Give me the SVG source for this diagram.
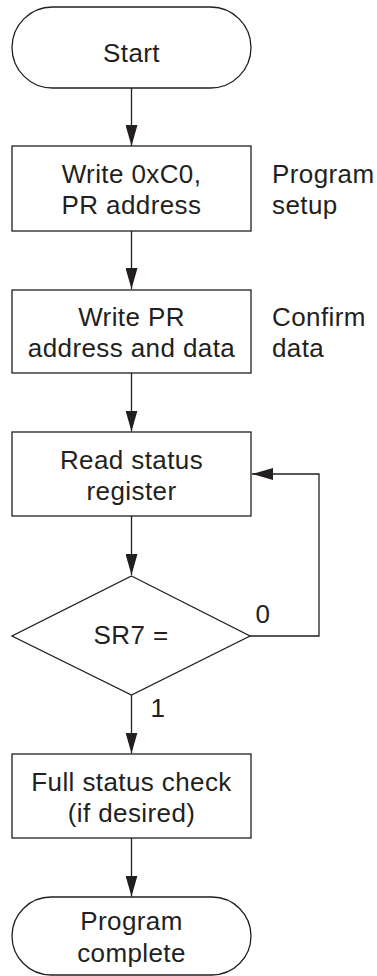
<svg xmlns="http://www.w3.org/2000/svg" width="377" height="976" viewBox="0 0 377 976">
<defs>
<style>
.s{fill:#fff;stroke:#231f20;stroke-width:1.3}
.c{fill:none;stroke:#231f20;stroke-width:1.3}
text{font-family:"Liberation Sans",Arial,sans-serif;font-size:26px;letter-spacing:0.4px;fill:#231f20}
.m{text-anchor:middle}
</style>
<marker id="ah" markerWidth="21" markerHeight="12" refX="21" refY="6" orient="auto" markerUnits="userSpaceOnUse">
<path d="M0,0 L21,6 L0,12 Z" fill="#231f20"/>
</marker>
</defs>
<rect width="377" height="976" fill="#fff"/>
<g id="connectors">
<line class="c" x1="131.5" y1="88" x2="131.5" y2="146" marker-end="url(#ah)"/>
<line class="c" x1="131.5" y1="231" x2="131.5" y2="289" marker-end="url(#ah)"/>
<line class="c" x1="131.5" y1="373" x2="131.5" y2="431.5" marker-end="url(#ah)"/>
<line class="c" x1="131.5" y1="516" x2="131.5" y2="575" marker-end="url(#ah)"/>
<polyline class="c" points="250,636 319,636 319,474 252,474" marker-end="url(#ah)"/>
<line class="c" x1="131.5" y1="695" x2="131.5" y2="753.5" marker-end="url(#ah)"/>
<line class="c" x1="131.5" y1="838" x2="131.5" y2="896.5" marker-end="url(#ah)"/>
<text class="m" x="263" y="623">0</text>
<text class="m" x="158" y="717">1</text>
</g>
<g id="start">
<rect class="s" x="12" y="7" width="239" height="81" rx="40.5"/>
<text class="m" x="131.5" y="62">Start</text>
</g>
<g id="write1">
<rect class="s" x="12" y="146" width="239" height="85"/>
<text class="m" x="131.5" y="183">Write 0xC0,</text>
<text class="m" x="131.5" y="214">PR address</text>
</g>
<g id="label1">
<text x="272" y="183">Program</text>
<text x="272" y="214">setup</text>
</g>
<g id="write2">
<rect class="s" x="12" y="290" width="239" height="83"/>
<text class="m" x="131.5" y="326">Write PR</text>
<text class="m" x="131.5" y="357">address and data</text>
</g>
<g id="label2">
<text x="272" y="326">Confirm</text>
<text x="272" y="357">data</text>
</g>
<g id="read">
<rect class="s" x="12" y="432" width="239" height="84"/>
<text class="m" x="131.5" y="468.5">Read status</text>
<text class="m" x="131.5" y="499.5">register</text>
</g>
<g id="decision">
<polygon class="s" points="131.5,576 250,636 131.5,695 12,636"/>
<text class="m" x="131" y="644">SR7 =</text>
</g>
<g id="check">
<rect class="s" x="12" y="754" width="239" height="84"/>
<text class="m" x="131.5" y="790.5">Full status check</text>
<text class="m" x="131.5" y="821.5">(if desired)</text>
</g>
<g id="end">
<rect class="s" x="12" y="897" width="239" height="78" rx="39"/>
<text class="m" x="131.5" y="930">Program</text>
<text class="m" x="131.5" y="962">complete</text>
</g>
</svg>
